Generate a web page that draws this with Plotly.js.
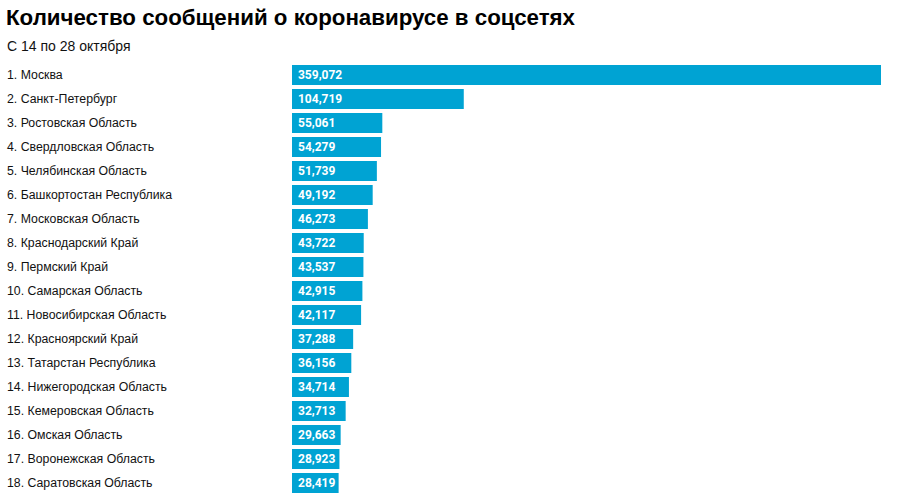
<!DOCTYPE html>
<html>
<head>
<meta charset="utf-8">
<script src="https://cdn.plot.ly/plotly-3.0.1.min.js"></script>
<style>html,body{margin:0;padding:0;background:#fff;}#chart{width:901px;height:497px;}</style>
</head>
<body>
<div id="chart"></div>
<script>
const regions = [
  "1. Москва",
  "2. Санкт-Петербург",
  "3. Ростовская Область",
  "4. Свердловская Область",
  "5. Челябинская Область",
  "6. Башкортостан Республика",
  "7. Московская Область",
  "8. Краснодарский Край",
  "9. Пермский Край",
  "10. Самарская Область",
  "11. Новосибирская Область",
  "12. Красноярский Край",
  "13. Татарстан Республика",
  "14. Нижегородская Область",
  "15. Кемеровская Область",
  "16. Омская Область",
  "17. Воронежская Область",
  "18. Саратовская Область"
];
const messages = [359072, 104719, 55061, 54279, 51739, 49192, 46273, 43722, 43537, 42915, 42117, 37288, 36156, 34714, 32713, 29663, 28923, 28419];
const titleText = "Количество сообщений о коронавирусе в соцсетях";
const subtitleText = "С 14 по 28 октября";

const trace = {
  type: 'bar',
  orientation: 'h',
  x: messages,
  y: regions,
  marker: {color: '#00A3D3'},
  texttemplate: '\u00a0%{x:,}',
  textposition: 'inside',
  insidetextanchor: 'start',
  constraintext: 'none',
  textangle: 0,
  textfont: {family: 'Roboto', size: 12, color: '#ffffff', weight: 'bold'},
  hoverinfo: 'none'
};

const annotations = regions.map(r => ({
  xref: 'paper', yref: 'y', x: 0, y: r, xshift: -287,
  xanchor: 'left', yanchor: 'middle', text: r, showarrow: false,
  font: {family: 'Liberation Sans, Arial, sans-serif', size: 12.3, color: '#111'}
}));
annotations.push({
  xref: 'paper', yref: 'paper', x: 0, y: 1, xshift: -287, yshift: 17,
  xanchor: 'left', yanchor: 'middle', text: subtitleText, showarrow: false,
  font: {family: 'Liberation Sans, Arial, sans-serif', size: 14, color: '#111'}
});

const layout = {
  width: 901, height: 497,
  margin: {l: 292, r: 20, t: 63, b: 2},
  paper_bgcolor: '#fff', plot_bgcolor: '#fff',
  title: {
    text: '<b>' + titleText + '</b>',
    xref: 'container', yref: 'container', x: 6/901, xanchor: 'left',
    y: 1 - 17/497, yanchor: 'middle',
    font: {family: 'Liberation Sans, Arial, sans-serif', size: 22.3, color: '#000'}
  },
  xaxis: {range: [0, 359072], showgrid: false, zeroline: false, showticklabels: false, showline: false, fixedrange: true},
  yaxis: {autorange: 'reversed', showgrid: false, zeroline: false, showticklabels: false, showline: false, fixedrange: true},
  bargap: 0.17,
  showlegend: false,
  annotations: annotations
};

Plotly.newPlot('chart', [trace], layout, {displayModeBar: false, staticPlot: true});
</script>
</body>
</html>
